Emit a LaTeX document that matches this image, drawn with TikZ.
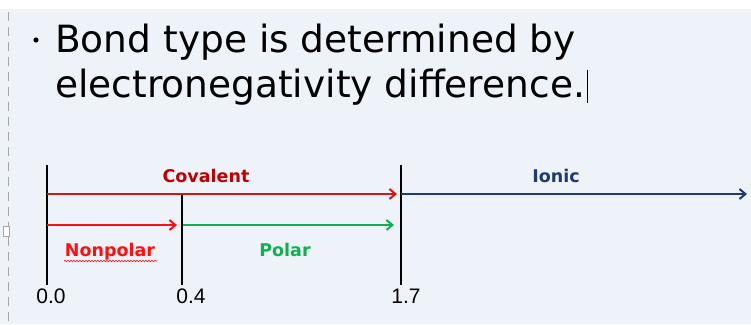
\documentclass[tikz,border=0pt]{standalone}
\usepackage{fontspec}
\setmainfont{Liberation Sans}
\newfontfamily\headfont{DejaVu Sans}
\usetikzlibrary{arrows.meta,decorations.pathmorphing}
\definecolor{bgcol}{HTML}{EEF3FA}
\definecolor{covred}{HTML}{C00000}
\definecolor{covarrow}{HTML}{D01818}
\definecolor{npred}{HTML}{FF1010}
\definecolor{polgreen}{HTML}{10B050}
\definecolor{ionblue}{HTML}{1F3A70}
\tikzset{
  tick/.style={line width=2.2pt,black},
  arr/.style={line width=2pt,-{Straight Barb[length=6pt,width=10pt,line width=2pt]}},
  lab/.style={font=\fontsize{17.5}{19}\selectfont\headfont\bfseries,inner sep=0pt,anchor=base},
  num/.style={font=\fontsize{21}{23}\selectfont,inner sep=0pt,anchor=base},
  head/.style={font=\fontsize{37.5}{46}\selectfont\headfont,inner sep=0pt,anchor=base west}
}
\begin{document}
\begin{tikzpicture}[x=1pt,y=-1pt]
\useasboundingbox (0,0) rectangle (751,324);
\fill[bgcol] (0,0) rectangle (751,324);
\fill[white] (0,0) rectangle (751,9);
\draw[gray!70,line width=0.8pt,dash pattern=on 9pt off 6pt] (8,12) -- (8,324);
\draw[gray!70,line width=0.8pt,fill=white] (3,226) rectangle (9,236);
% heading
\fill[black] (36,40) circle (2.6pt) coordinate (b);
\node[head] (l1) at (55,52) {Bond type is determined by};
\node[head] (l2) at (55,97) {electronegativity difference.};
\coordinate (cur) at ([xshift=2pt]l2.base east);
\draw[black,line width=0.8pt] ([yshift=-6pt]cur) -- ([yshift=27pt]cur);
% ticks
\coordinate (t0a) at (47,165); \coordinate (t0b) at (47,285);
\coordinate (t4a) at (182,195); \coordinate (t4b) at (182,285);
\coordinate (t7a) at (401,165); \coordinate (t7b) at (401,285);
\draw[tick] (t0a) -- (t0b);
\draw[tick] (t4a) -- (t4b);
\draw[tick] (t7a) -- (t7b);
% arrows
\coordinate (c0) at (47,194); \coordinate (c1) at (397,194);
\coordinate (i0) at (401,194); \coordinate (i1) at (747,194);
\coordinate (n0) at (47,225); \coordinate (n1) at (177,225);
\coordinate (p0) at (183,225); \coordinate (p1) at (394,225);
\draw[arr,covarrow] (c0) -- (c1);
\draw[arr,ionblue] (i0) -- (i1);
\draw[arr,npred] (n0) -- (n1);
\draw[arr,polgreen] (p0) -- (p1);
% labels
\node[lab,text=covred] (cov) at (206,182) {Covalent};
\node[lab,text=ionblue] (ion) at (556,182) {Ionic};
\node[lab,text=npred] (np) at (110,256) {Nonpolar};
\node[lab,text=polgreen] (pol) at (285,256) {Polar};
\draw[npred,line width=0.6pt,decorate,decoration={snake,amplitude=0.8pt,segment length=3pt}] (64,261) -- (157,261);
\node[num] (z0) at (51,303) {0.0};
\node[num] (z4) at (191,303) {0.4};
\node[num] (z7) at (406,303) {1.7};
\end{tikzpicture}
\end{document}
